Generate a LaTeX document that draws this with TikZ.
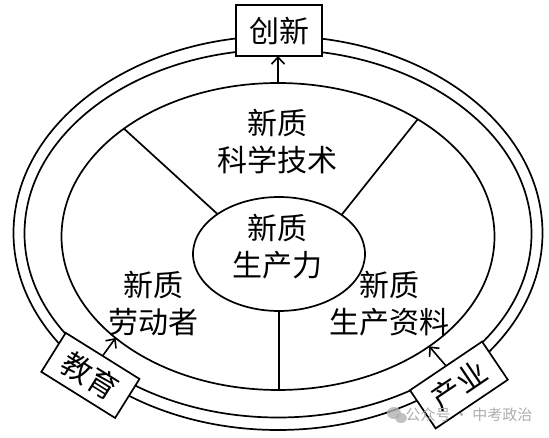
\documentclass[tikz,border=0pt]{standalone}
\usepackage{fontspec}
\setmainfont{Noto Sans CJK SC}
\usetikzlibrary{shapes.geometric,arrows.meta}
\begin{document}
\begin{tikzpicture}[x=1pt,y=-1pt, line width=1.7pt,
  ring/.style={draw, ellipse, inner sep=0pt, outer sep=0pt},
  lbl/.style={font=\fontsize{30}{37}\selectfont, align=center, inner sep=0pt},
  tagbox/.style={draw, fill=white, minimum width=87pt, minimum height=46pt, inner sep=0pt, outer sep=0pt, font=\fontsize{30}{36}\selectfont},
  arr/.style={-{Straight Barb[length=7pt,width=13pt]}, line width=1.6pt},
  divider/.style={line width=1.7pt},
  wm/.style={text=black!32, font=\fontsize{15}{18}\selectfont, inner sep=0pt}
]
\useasboundingbox (0,0) rectangle (549,438);
% rings
\node[ring, minimum width=529pt, minimum height=394pt] (outer) at (278,233) {};
\node[ring, minimum width=507pt, minimum height=368pt] (middle) at (278,233.5) {};
\node[ring, minimum width=433pt, minimum height=307pt] (inner) at (278,236.5) {};
\node[ring, minimum width=172pt, minimum height=114pt] (core) at (279,254) {};
% dividers
\draw[divider] (core.147.6) -- (inner.145.3);
\draw[divider] (core.32.4) -- (inner.40.6);
\draw[divider] (core.south) -- (core.south |- inner.south);
% labels
\node[lbl] (tech) at (277,141.5) {新质\\科学技术};
\node[lbl] (force) at (277,247) {新质\\生产力};
\node[lbl] (labor) at (153,303.5) {新质\\劳动者};
\node[lbl] (means) at (389,303.5) {新质\\生产资料};
% tag boxes
\node[tagbox, minimum width=86pt, minimum height=51pt] (innov) at (279,30.5) {创新};
\node[tagbox, rotate=-32] (edu) at (90.4,375.4) {教育};
\node[tagbox, rotate=34] (ind) at (458.9,385) {产业};
% arrows
\draw[arr] (inner.north) -- (inner.north |- innov.south);
\draw[arr] (edu.north) -- (inner.212.8);
\draw[arr] (ind.north) -- (inner.324.4);
% watermark
\fill[black!30, opacity=0.8] (394,413) ellipse [x radius=7pt, y radius=6pt];
\fill[black!30, opacity=0.8] (401,418) ellipse [x radius=6pt, y radius=5pt];
\node[wm] (mark) at (469,415) {公众号 · 中考政治};
\end{tikzpicture}
\end{document}
